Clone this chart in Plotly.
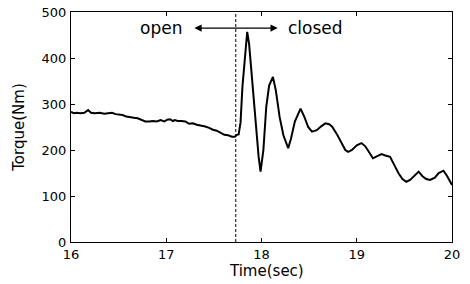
import plotly.graph_objects as go

time_sec = [16.00, 16.03, 16.06, 16.10, 16.14, 16.18, 16.21, 16.25, 16.30, 16.35,
            16.39, 16.43, 16.47, 16.50, 16.54, 16.58, 16.62, 16.66, 16.70, 16.74,
            16.78, 16.82, 16.86, 16.90, 16.94, 16.98, 17.01, 17.04, 17.07, 17.09,
            17.12, 17.16, 17.20, 17.24, 17.28, 17.32, 17.37, 17.41, 17.45, 17.49,
            17.53, 17.57, 17.61, 17.65, 17.69, 17.72, 17.74, 17.76, 17.78, 17.80,
            17.83, 17.85, 17.87, 17.89, 17.91, 17.94, 17.97, 17.99, 18.02, 18.05,
            18.08, 18.12, 18.15, 18.19, 18.23, 18.28, 18.31, 18.35, 18.41, 18.45,
            18.49, 18.53, 18.58, 18.63, 18.67, 18.71, 18.74, 18.79, 18.84, 18.88,
            18.91, 18.95, 19.00, 19.05, 19.09, 19.13, 19.17, 19.21, 19.26, 19.30,
            19.35, 19.40, 19.44, 19.48, 19.52, 19.56, 19.61, 19.65, 19.69, 19.73,
            19.77, 19.82, 19.86, 19.91, 19.95, 20.00]
torque_nm = [283, 280, 281, 280, 281, 287, 281, 280, 281, 279,
             280, 281, 278, 277, 276, 273, 271, 270, 269, 265,
             262, 262, 263, 262, 265, 262, 266, 267, 263, 265,
             263, 263, 262, 257, 258, 255, 253, 251, 248, 244,
             242, 237, 233, 232, 229, 229, 233, 234, 260, 338,
             420, 457, 430, 380, 338, 260, 185, 153, 200, 294,
             340, 359, 330, 272, 232, 204, 225, 262, 290, 272,
             250, 240, 243, 252, 258, 256, 251, 235, 215, 200,
             196, 200, 210, 215, 208, 195, 182, 186, 191, 188,
             185, 165, 149, 137, 131, 135, 145, 153, 143, 137,
             135, 140, 150, 155, 143, 124]

switch_time = 17.73
x_ticks = [16, 17, 18, 19, 20]
y_ticks = [0, 100, 200, 300, 400, 500]

FONT = "DejaVu Sans"

fig = go.Figure()
fig.add_trace(go.Scatter(x=time_sec, y=torque_nm, mode="lines",
                         line=dict(color="black", width=2), showlegend=False))

fig.add_shape(type="line", x0=switch_time, x1=switch_time, y0=0, y1=500,
              xref="x", yref="y", line=dict(color="black", width=1, dash="3px,2px"))

fig.add_annotation(x=18.17, y=465, ax=17.28, ay=465, xref="x", yref="y",
                   axref="x", ayref="y", text="", showarrow=True,
                   arrowhead=2, startarrowhead=2, arrowside="end+start",
                   arrowsize=1.2, startarrowsize=1.2, arrowwidth=1.2, arrowcolor="black")
fig.add_annotation(x=16.95, y=465, xref="x", yref="y", text="open", showarrow=False,
                   font=dict(size=17, color="black", family=FONT))
fig.add_annotation(x=18.57, y=465, xref="x", yref="y", text="closed", showarrow=False,
                   font=dict(size=17, color="black", family=FONT))

# x-axis title placed as an annotation so it sits close under the tick labels
fig.add_annotation(x=0.512, y=0, xref="paper", yref="paper", yshift=-29,
                   xanchor="center", yanchor="middle", text="Time(sec)", showarrow=False,
                   font=dict(size=15, color="black", family=FONT))

axis_common = dict(showline=True, linecolor="black", linewidth=1, mirror="ticks",
                   ticks="inside", ticklen=4, tickcolor="black", showgrid=False,
                   zeroline=False, automargin=False,
                   tickfont=dict(size=13, color="black", family=FONT))

fig.update_xaxes(range=[16, 20], tickvals=x_ticks, ticktext=[str(v) for v in x_ticks],
                 **axis_common)
fig.update_yaxes(range=[0, 500], tickvals=y_ticks, ticktext=[str(v) for v in y_ticks],
                 ticklabelstandoff=1,
                 title=dict(text="Torque(Nm)", font=dict(size=15, color="black", family=FONT),
                            standoff=13), **axis_common)

fig.update_layout(width=470, height=284, margin=dict(l=71, r=18, t=12, b=42),
                  paper_bgcolor="white", plot_bgcolor="white",
                  font=dict(family=FONT, color="black"))

fig.write_html("out.html", config={"displayModeBar": False},
               post_script="document.body.style.margin='0px';")
